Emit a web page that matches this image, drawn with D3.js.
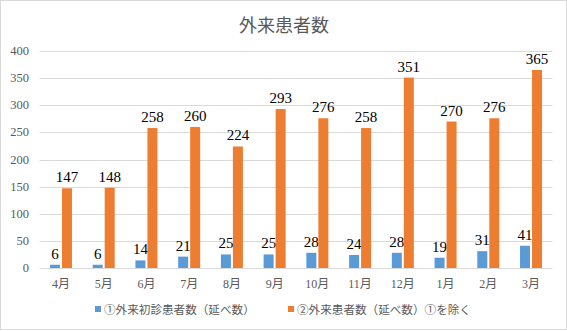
<!DOCTYPE html>
<html><head><meta charset="utf-8">
<script src="https://cdn.jsdelivr.net/npm/d3@7"></script>
<style>body{margin:0;background:#fff}svg{display:block}</style>
</head><body>
<svg id="c" width="567" height="331"></svg>
<script>
const categories = ["4月","5月","6月","7月","8月","9月","10月","11月","12月","1月","2月","3月"];
const seriesNames = ["①外来初診患者数（延べ数）","②外来患者数（延べ数）①を除く"];
const firstVisits = [6,6,14,21,25,25,28,24,28,19,31,41];
const otherVisits = [147,148,258,260,224,293,276,258,351,270,276,365];
const yTicks = [0,50,100,150,200,250,300,350,400];
const title = "外来患者数";
const colors = ["#5B9BD5","#ED7D31"];

const svg = d3.select("#c");
svg.append("rect").attr("x",0.5).attr("y",0.5).attr("width",566).attr("height",329)
  .attr("fill","#fff").attr("stroke","#d9d9d9");

const x = d3.scaleBand().domain(categories).range([39.6,552.4]);
const y = d3.scaleLinear().domain([0,400]).range([268,51]);
const barW = 10, gap = 2;

// gridlines
svg.append("g").selectAll("line").data(yTicks).join("line")
  .attr("x1",39.6).attr("x2",552.4)
  .attr("y1",d=>Math.round(y(d))+0.5).attr("y2",d=>Math.round(y(d))+0.5)
  .attr("stroke","#d9d9d9").attr("stroke-width",1);

// y tick labels
svg.append("g").selectAll("text").data(yTicks).join("text")
  .attr("x",29).attr("y",d=>y(d)+4)
  .attr("text-anchor","end").attr("fill","#595959")
  .attr("font-family","'Liberation Serif','DejaVu Serif',serif").attr("font-size",12.5)
  .text(d=>d);

// x labels
svg.append("g").selectAll("text").data(categories).join("text")
  .attr("x",d=>x(d)+x.bandwidth()/2).attr("y",288)
  .attr("text-anchor","middle").attr("fill","#595959")
  .attr("font-family","'Liberation Serif','Noto Sans CJK JP',serif").attr("font-size",12)
  .text(d=>d);

const series = [firstVisits, otherVisits];
series.forEach((vals,si)=>{
  const g = svg.append("g");
  const cx = (d,i)=> x(categories[i]) + x.bandwidth()/2 + (si===0 ? -gap/2-barW : gap/2);
  g.selectAll("rect").data(vals).join("rect")
    .attr("x",(d,i)=>cx(d,i)).attr("width",barW)
    .attr("y",d=>y(d)).attr("height",d=>y(0)-y(d))
    .attr("fill",colors[si]);
  g.selectAll("text").data(vals).join("text")
    .attr("x",(d,i)=>cx(d,i)+barW/2).attr("y",d=>y(d)-6)
    .attr("text-anchor","middle").attr("fill","#000")
    .attr("font-family","'Liberation Serif','DejaVu Serif',serif").attr("font-size",15)
    .text(d=>d);
});

// title
svg.append("text").attr("x",284).attr("y",32).attr("text-anchor","middle")
  .attr("fill","#595959").attr("font-family","'Noto Sans CJK JP',sans-serif")
  .attr("font-size",18).text(title);

// legend
const legX = [95, 288];
seriesNames.forEach((n,i)=>{
  svg.append("rect").attr("x",legX[i]).attr("y",306).attr("width",6).attr("height",6).attr("fill",colors[i]);
  svg.append("text").attr("x",legX[i]+9).attr("y",313.5).attr("fill","#595959")
    .attr("font-family","'Noto Sans CJK JP',sans-serif").attr("font-size",11.6).text(n);
});
</script>
</body></html>
